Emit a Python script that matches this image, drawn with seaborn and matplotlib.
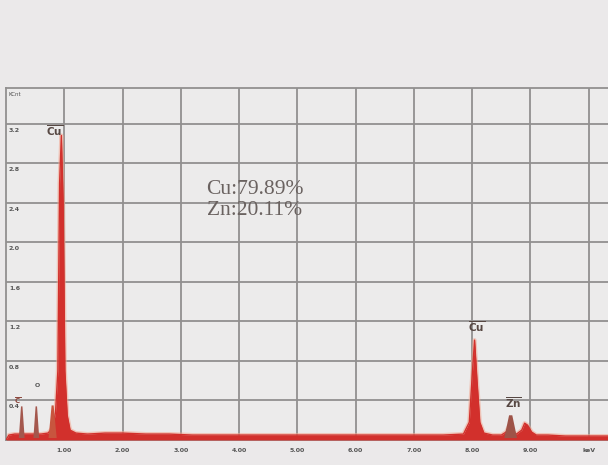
import matplotlib
matplotlib.use("Agg")
import matplotlib.pyplot as plt
import seaborn as sns
import pandas as pd

# spectrum (energy in keV, counts in K)
energy = [0.00, 0.05, 0.15, 0.30, 0.45, 0.60, 0.72, 0.80, 0.85, 0.89,
          0.92, 0.95, 0.98, 1.01, 1.05, 1.10, 1.20, 1.40, 1.70, 2.00,
          2.40, 2.80, 3.20, 3.60, 4.00, 4.50, 5.00, 5.50, 6.00, 6.50,
          7.00, 7.50, 7.85, 7.95, 8.00, 8.04, 8.08, 8.13, 8.20, 8.35,
          8.50, 8.58, 8.63, 8.68, 8.76, 8.85, 8.90, 8.95, 9.02, 9.10,
          9.30, 9.60, 10.00, 10.33]
counts = [0.00, 0.05, 0.06, 0.06, 0.06, 0.06, 0.07, 0.12, 0.28, 0.70,
          2.60, 3.08, 2.40, 0.70, 0.25, 0.10, 0.07, 0.06, 0.07, 0.07,
          0.06, 0.06, 0.05, 0.05, 0.05, 0.05, 0.05, 0.05, 0.05, 0.05,
          0.05, 0.05, 0.06, 0.18, 0.65, 1.01, 0.62, 0.18, 0.07, 0.05,
          0.05, 0.08, 0.14, 0.08, 0.06, 0.10, 0.17, 0.15, 0.08, 0.05,
          0.05, 0.04, 0.04, 0.04]

# element marker triangles
marker_energy = [0.27, 0.52, 0.80, 8.66]
marker_height = [0.34, 0.34, 0.35, 0.25]

# peak labels
peak_text = ["Cu", "Cu", "Zn"]
peak_x = [0.84, 8.08, 8.70]
peak_y = [3.13, 1.15, 0.38]

x_ticks = [1, 2, 3, 4, 5, 6, 7, 8, 9, 10]
x_labels = ["1.00", "2.00", "3.00", "4.00", "5.00", "6.00", "7.00", "8.00", "9.00", "keV"]
y_ticks = [0.4, 0.8, 1.2, 1.6, 2.0, 2.4, 2.8, 3.2]
y_labels = ["0.4", "0.8", "1.2", "1.6", "2.0", "2.4", "2.8", "3.2"]

composition = "Cu:79.89%\nZn:20.11%"

df = pd.DataFrame({"energy": energy, "counts": counts})

sns.set_theme(style="whitegrid")
bg = "#ebe9ea"
fig = plt.figure(figsize=(6.08, 4.65), dpi=100, facecolor=bg)
ax = fig.add_axes([6/608, 25/465, 602/608, 352/465])
ax.set_facecolor("#ecebeb")

ax.set_xlim(0, 10.33)
ax.set_ylim(0, 3.56)
ax.set_xticks(x_ticks)
ax.set_xticklabels(x_labels, fontsize=4.5, fontweight="bold", color="#555")
ax.set_yticks(y_ticks)
ax.set_yticklabels([])
ax.tick_params(axis="both", length=0, pad=6)
ax.grid(True, color="#929090", linewidth=1.3)
for s in ["left", "bottom", "top"]:
    ax.spines[s].set_color("#929090")
    ax.spines[s].set_linewidth(1.3)
ax.spines["right"].set_visible(False)

# spectrum
ax.fill_between(df["energy"], df["counts"], color="#d2302c", lw=0, zorder=3)
sns.lineplot(data=df, x="energy", y="counts", ax=ax, color="#f2a58e",
             linewidth=3.0, alpha=0.55, zorder=2)
sns.lineplot(data=df, x="energy", y="counts", ax=ax, color="#d2302c",
             linewidth=1.0, zorder=4)
ax.set_xlabel("")
ax.set_ylabel("")

# markers
widths = [0.05, 0.05, 0.07, 0.11]
cols = ["#a4574d", "#a4574d", "#c8553e", "#9e5348"]
for e, h, w, c in zip(marker_energy, marker_height, widths, cols):
    ax.fill([e - w, e - w * 0.25, e + w * 0.25, e + w], [0.02, h, h, 0.02],
            color=c, lw=0, zorder=5)

for t, x, y in zip(peak_text, peak_x, peak_y):
    ax.text(x, y, r"$\overline{\mathbf{" + t + "}}$", fontsize=7.5,
            color="#574843", ha="center", va="center", zorder=6)
ax.text(0.20, 0.40, r"$\overline{\mathbf{C}}$", fontsize=5, color="#8e4a40",
        ha="center", va="center", zorder=6)
ax.text(0.53, 0.55, "O", fontsize=4.5, color="#555", fontweight="bold",
        ha="center", va="center", zorder=6)

# y labels sit inside the axes just below each gridline
for v, lab in zip(y_ticks, y_labels):
    ax.text(0.05, v - 0.04, lab, fontsize=4.5, fontweight="bold", color="#555",
            ha="left", va="top", zorder=6)
ax.text(0.05, 3.52, "KCnt", fontsize=4, color="#555", ha="left", va="top")

ax.text(4.27, 2.43, composition, fontsize=15.5, color="#6a6260",
        family="Liberation Serif", ha="center", va="center", linespacing=1.15,
        zorder=6)

fig.savefig("out.png", dpi=100, facecolor=bg)
